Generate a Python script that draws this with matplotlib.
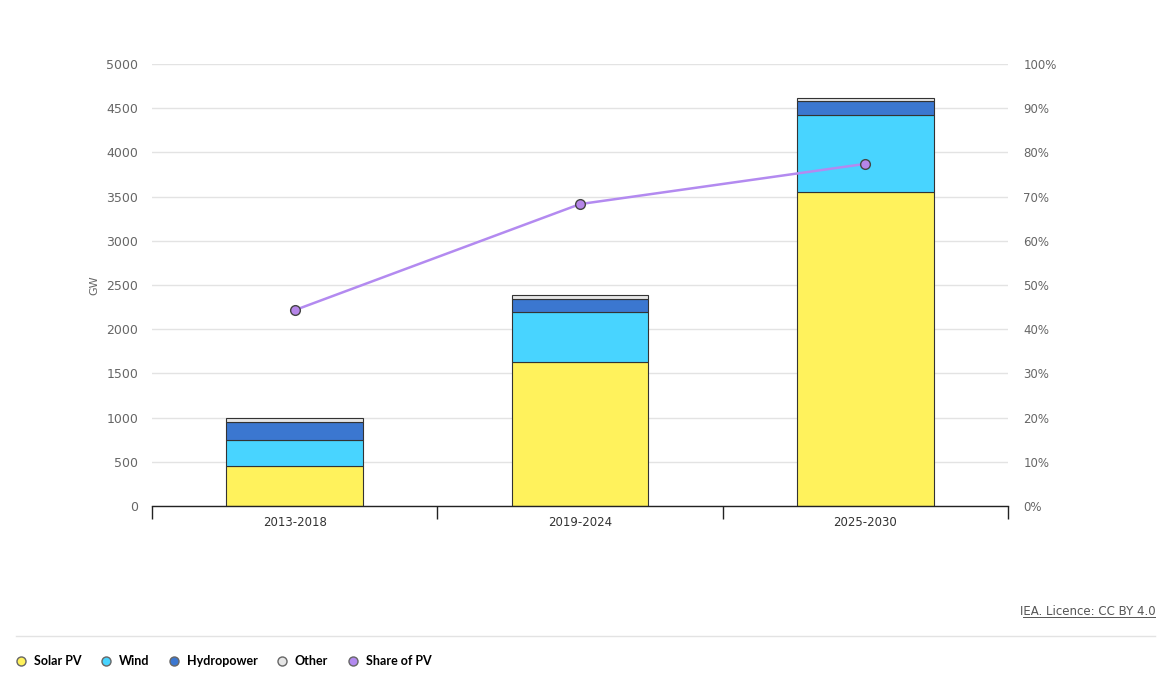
import matplotlib.pyplot as plt
import numpy as np
from matplotlib.lines import Line2D
from matplotlib.ticker import FuncFormatter, FixedLocator

periods = ["2013-2018", "2019-2024", "2025-2030"]
solar = [450, 1630, 3550]
wind = [295, 565, 870]
hydro = [205, 147, 158]
other = [45, 45, 34]
share_pv = [44.3, 68.3, 77.4]

colors = {"Solar PV": "#FFF25C", "Wind": "#48D4FF", "Hydropower": "#3B77D0",
          "Other": "#E6E6E6", "Share of PV": "#B38AF0"}

plt.rcParams['font.family'] = ['DejaVu Sans']

fig = plt.figure(figsize=(11.73, 6.83), dpi=100)
ax = fig.add_axes([0.1296, 0.2592, 0.7297, 0.6471])

x = np.arange(len(periods))
w = 0.48
bottom = np.zeros(len(periods))
for name, vals in [("Solar PV", solar), ("Wind", wind), ("Hydropower", hydro), ("Other", other)]:
    ax.bar(x, vals, w, bottom=bottom, color=colors[name], edgecolor="#333333", linewidth=0.8, zorder=3)
    bottom += np.array(vals)

ax.set_xlim(-0.5, 2.5)
ax.set_ylim(0, 5000)
ax.set_yticks(np.arange(0, 5001, 500))
ax.grid(axis="y", color="#E3E3E3", linewidth=1, zorder=0)
ax.set_xticks(x)
ax.set_xticklabels(periods)
ax.xaxis.set_minor_locator(FixedLocator([-0.5, 0.5, 1.5, 2.5]))
ax.tick_params(axis="x", which="major", length=0, pad=7, labelsize=8.5, labelcolor="#333333")
ax.tick_params(axis="x", which="minor", length=9, width=1, color="#222222", direction="out")
ax.tick_params(axis="y", length=0, pad=10, labelsize=9, labelcolor="#666666")
ax.set_ylabel("GW", fontsize=8, color="#666666")
ax.yaxis.set_label_coords(-0.061, 0.5)
for s in ["top", "left", "right"]:
    ax.spines[s].set_visible(False)
ax.spines["bottom"].set_color("#222222")
ax.spines["bottom"].set_linewidth(1)
ax.spines["bottom"].set_zorder(4)

ax2 = ax.twinx()
ax2.set_ylim(0, 100)
ax2.set_yticks(np.arange(0, 101, 10))
ax2.yaxis.set_major_formatter(FuncFormatter(lambda v, p: f"{int(v)}%"))
ax2.tick_params(axis="y", length=0, pad=11, labelsize=8.5, labelcolor="#666666")
for s in ["top", "left", "right", "bottom"]:
    ax2.spines[s].set_visible(False)
ax2.plot(x, share_pv, color=colors["Share of PV"], linewidth=1.8, marker="o", markersize=7,
         markerfacecolor="#B585E8", markeredgecolor="#444444", markeredgewidth=1, zorder=5)

# source and separator
fig.text(0.985, 0.105, "IEA. Licence: CC BY 4.0", ha="right", va="center", fontsize=8.5, color="#555555")
fig.add_artist(Line2D([0.872, 0.985], [0.0966, 0.0966], color="#555555", linewidth=0.7))
fig.add_artist(Line2D([0.014, 0.985], [0.069, 0.069], color="#E3E3E3", linewidth=1))

handles = [Line2D([], [], linestyle="none", marker="o", markersize=6.5, markerfacecolor=colors[k],
                  markeredgecolor="#666666", markeredgewidth=1, label=k) for k in colors]
fig.legend(handles=handles, loc="center left", bbox_to_anchor=(0.003, 0.032), ncol=5, frameon=False,
           handlelength=1.0, handletextpad=0.5, columnspacing=1.5,
           prop={"family": "Lato", "size": 9, "weight": "bold"})

fig.savefig("out.png", dpi=100)
